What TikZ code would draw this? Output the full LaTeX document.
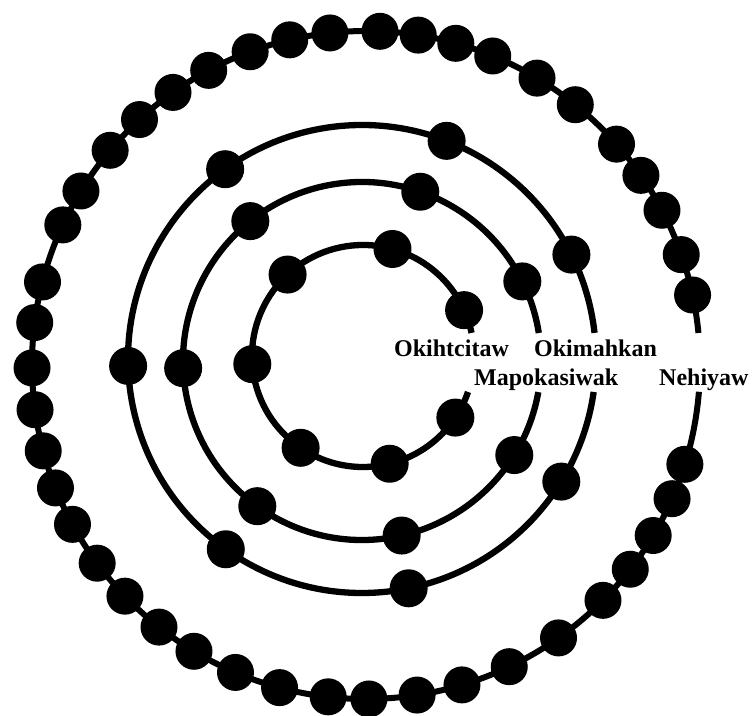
\documentclass[tikz,border=0pt]{standalone}
\usepackage{fontspec}
\setmainfont{Liberation Serif}
\usetikzlibrary{calc}
\begin{document}
\begin{tikzpicture}[x=1pt,y=1pt,
  ring/.style={line width=6.3pt,black},
  bead/.style={circle,fill=black,inner sep=0pt,minimum size=#1},
  lbl/.style={anchor=base west,inner sep=0pt,font=\fontsize{24}{28}\selectfont\bfseries}
]
\useasboundingbox (0,0) rectangle (755,715);
% ring centres
\coordinate (c1) at (363,359);
\coordinate (c2) at (362,354);
\coordinate (c3) at (362,356);
\coordinate (c4) at (366,350);
% strings
\draw[ring] ($(c1)+(12:111pt)$) arc[start angle=12, end angle=341.1, radius=111pt];
\draw[ring] ($(c2)+(9:179pt)$) arc[start angle=9, end angle=350, radius=179pt];
\draw[ring] ($(c3)+(6.4:234pt)$) arc[start angle=6.4, end angle=351.9, radius=234pt];
\draw[ring,line width=6pt] ($(c4)+(5.5:334pt)$) arc[start angle=5.5, end angle=355.4, radius=334pt];
% beads
\foreach \a [count=\i] in {24.4,74.6,132.8,184.2,235.8,283.9,326.3}
  \node[bead=38pt] (a\i) at ($(c1)+(\a:111pt)$) {};
\foreach \a [count=\i] in {26.4,71.0,128.6,182.3,234.2,282.8,328.3}
  \node[bead=38pt] (b\i) at ($(c2)+(\a:179pt)$) {};
\foreach \a [count=\i] in {26.5,68.8,125.8,181.7,234.4,281.5,328.4}
  \node[bead=38pt] (d\i) at ($(c3)+(\a:234pt)$) {};
\foreach \a [count=\i] in {12.1,19.3,27.6,34.6,41.4,51.2,59.2,67.7,74.4,81.0,87.6,96.2,103.2,110.3,118.1,125.3,132.7,140.0,148.6,155.2,165.6,172.7,180.5,187.7,194.9,201.6,208.5,216.4,223.8,231.7,239.0,247.0,255.0,263.5,270.5,278.8,286.7,295.4,305.2,315.2,322.3,329.3,336.4,342.7}
  \node[bead=37pt] (o\i) at ($(c4)+(\a:334pt)$) {};
% labels
\node[lbl] (l1) at (394,358) {Okihtcitaw};
\node[lbl] (l2) at (534,358) {Okimahkan};
\node[lbl] (l3) at (474,329) {Mapokasiwak};
\node[lbl] (l4) at (659,329) {Nehiyaw};
\end{tikzpicture}
\end{document}
